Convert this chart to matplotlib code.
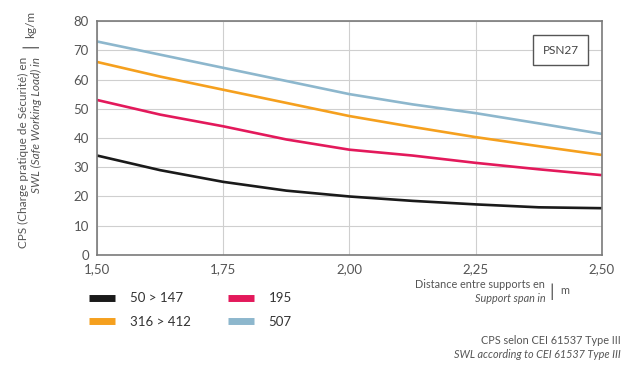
import matplotlib.pyplot as plt
from matplotlib.lines import Line2D

plt.rcParams['font.family'] = ['Lato', 'DejaVu Sans']

span = [1.50, 1.625, 1.75, 1.875, 2.00, 2.125, 2.25, 2.375, 2.50]
swl_50_147 = [34, 29, 25, 22, 20, 18.5, 17.3, 16.3, 16]
swl_195 = [53, 48, 44, 39.5, 36, 34, 31.5, 29.3, 27.3]
swl_316_412 = [66, 61, 56.5, 52, 47.5, 43.8, 40.3, 37.2, 34.2]
swl_507 = [73, 68.5, 64, 59.5, 55, 51.5, 48.5, 45, 41.4]

series = [
    ("50 > 147", swl_50_147, "#1a1a1a"),
    ("316 > 412", swl_316_412, "#f5a01e"),
    ("195", swl_195, "#e3195b"),
    ("507", swl_507, "#8db7cd"),
]

xticks = [1.50, 1.75, 2.00, 2.25, 2.50]
xtick_labels = ["1,50", "1,75", "2,00", "2,25", "2,50"]
yticks = [0, 10, 20, 30, 40, 50, 60, 70, 80]

fig = plt.figure(figsize=(6.43, 3.69), dpi=100)
ax = fig.add_axes([0.151, 0.309, 0.785, 0.634])

for name, vals, col in series:
    ax.plot(span, vals, color=col, lw=1.9, solid_capstyle='butt')

ax.set_xlim(1.50, 2.50)
ax.set_ylim(0, 80)
ax.set_xticks(xticks)
ax.set_xticklabels(xtick_labels)
ax.set_yticks(yticks)
ax.grid(True, color="#cfcfcf", lw=0.8)
ax.tick_params(length=0, labelsize=9.5, colors="#555555", pad=6)
for s in ax.spines.values():
    s.set_color("#7a7a7a")
    s.set_linewidth(1.2)

ax.text(0.919, 0.876, "PSN27", transform=ax.transAxes, ha='center', va='center',
        fontsize=8.5, color="#444444",
        bbox=dict(boxstyle='square,pad=0.8', fc='white', ec='#555555', lw=1))

# y axis title
fig.text(0.036, 0.845, "CPS (Charge pratique de Sécurité) en", rotation=90,
         ha='center', va='top', fontsize=8.5, color="#555555")
fig.text(0.056, 0.845, "SWL (Safe Working Load) in", rotation=90,
         ha='center', va='top', fontsize=8.5, color="#555555", style='italic')
fig.text(0.047, 0.875, "|", rotation=90, ha='center', va='center',
         fontsize=13, color="#555555")
fig.text(0.047, 0.935, "kg/m", rotation=90, ha='center', va='center',
         fontsize=8.5, color="#555555")

# x axis title
fig.text(0.848, 0.228, "Distance entre supports en", ha='right', va='center',
         fontsize=7.8, color="#555555")
fig.text(0.848, 0.19, "Support span in", ha='right', va='center',
         fontsize=7.8, color="#555555", style='italic')
fig.text(0.858, 0.21, "|", ha='center', va='center', fontsize=13, color="#555555")
fig.text(0.872, 0.212, "m", ha='left', va='center', fontsize=7.8, color="#555555")

# footnote
fig.text(0.965, 0.076, "CPS selon CEI 61537 Type III", ha='right', va='center',
         fontsize=7.8, color="#555555")
fig.text(0.965, 0.038, "SWL according to CEI 61537 Type III", ha='right', va='center',
         fontsize=7.8, color="#555555", style='italic')

handles = [Line2D([], [], color=c, lw=5, solid_capstyle='butt') for _, _, c in series]
labels = [n for n, _, _ in series]
fig.legend(handles, labels, ncol=2, loc='upper left', bbox_to_anchor=(0.12, 0.24),
           frameon=False, fontsize=9.5, handlelength=2.0, handletextpad=1.1,
           columnspacing=2.8, labelspacing=0.85, labelcolor="#333333")

fig.savefig("out.png", dpi=100, facecolor='white')
